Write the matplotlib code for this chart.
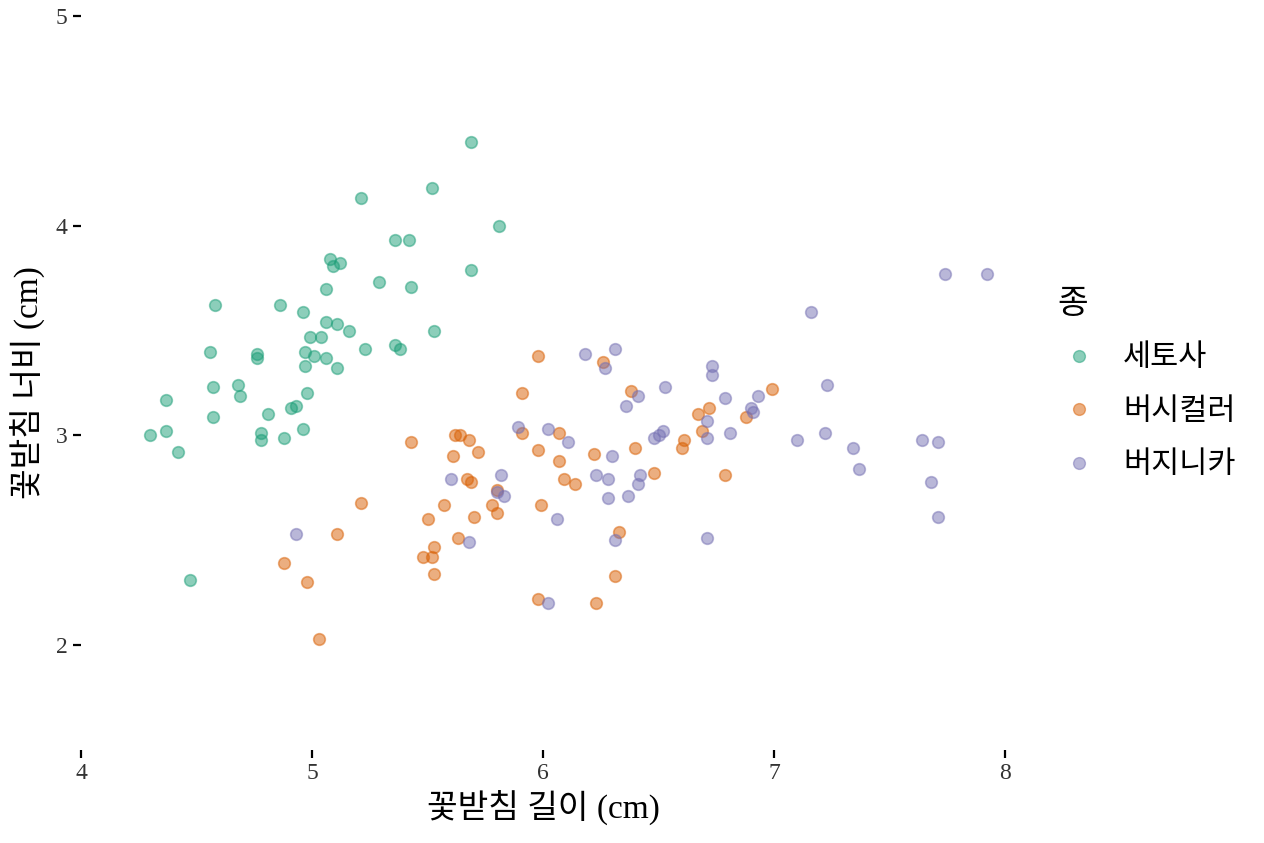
import numpy as np
import matplotlib
matplotlib.use('Agg')
import matplotlib.pyplot as plt
from matplotlib.lines import Line2D

# Schriften: Serif für Zahlen, Noto CJK für Hangul
plt.rcParams['font.family'] = ['Liberation Serif', 'Noto Sans CJK KR']

# Daten (mit Jitter)
setosa_x = [5.69, 5.52, 5.21, 5.81, 5.36, 5.42, 5.08, 5.09, 5.12, 5.69,
            5.29, 5.43, 5.06, 4.58, 4.86, 4.96, 5.06, 5.11, 5.16, 5.53,
            5.04, 4.99, 4.56, 4.76, 4.76, 4.97, 5.01, 5.23, 5.36, 5.38,
            5.06, 4.97, 5.11, 4.57, 4.68, 4.69, 4.37, 4.98, 4.57, 4.81,
            4.91, 4.93, 4.30, 4.37, 4.78, 4.78, 4.88, 4.96, 4.42, 4.47]
setosa_y = [4.40, 4.18, 4.13, 4.00, 3.93, 3.93, 3.84, 3.81, 3.82, 3.79,
            3.73, 3.71, 3.70, 3.62, 3.62, 3.59, 3.54, 3.53, 3.50, 3.50,
            3.47, 3.47, 3.40, 3.39, 3.37, 3.40, 3.38, 3.41, 3.43, 3.41,
            3.37, 3.33, 3.32, 3.23, 3.24, 3.19, 3.17, 3.20, 3.09, 3.10,
            3.13, 3.14, 3.00, 3.02, 3.01, 2.98, 2.99, 3.03, 2.92, 2.31]

versicolor_x = [5.43, 5.62, 5.64, 5.68, 5.61, 5.72, 5.91, 5.98, 5.67, 5.69,
                5.80, 5.78, 5.80, 5.57, 5.21, 5.50, 5.70, 5.11, 5.63, 5.53,
                5.48, 5.52, 5.53, 4.88, 4.98, 5.03, 5.98, 5.98, 6.26, 5.91,
                6.38, 6.72, 6.67, 6.69, 6.07, 6.61, 6.60, 6.22, 6.40, 6.07,
                6.48, 6.09, 6.14, 6.79, 5.99, 6.33, 6.31, 6.23, 6.99, 6.88]
versicolor_y = [2.97, 3.00, 3.00, 2.98, 2.90, 2.92, 3.01, 2.93, 2.79, 2.78,
                2.74, 2.67, 2.63, 2.67, 2.68, 2.60, 2.61, 2.53, 2.51, 2.47,
                2.42, 2.42, 2.34, 2.39, 2.30, 2.03, 2.22, 3.38, 3.35, 3.20,
                3.21, 3.13, 3.10, 3.02, 3.01, 2.98, 2.94, 2.91, 2.94, 2.88,
                2.82, 2.79, 2.77, 2.81, 2.67, 2.54, 2.33, 2.20, 3.22, 3.09]

virginica_x = [5.89, 5.60, 5.82, 5.80, 5.83, 5.68, 4.93, 6.18, 6.31, 6.27,
               6.73, 6.73, 6.53, 6.41, 6.36, 6.79, 6.71, 6.71, 6.81, 6.02,
               6.11, 6.52, 6.50, 6.48, 6.30, 6.23, 6.28, 6.42, 6.41, 6.28,
               6.37, 6.06, 6.31, 6.71, 6.02, 7.74, 7.92, 7.16, 7.23, 6.93,
               6.90, 6.91, 7.10, 7.22, 7.34, 7.37, 7.64, 7.71, 7.68, 7.71]
virginica_y = [3.04, 2.79, 2.81, 2.73, 2.71, 2.49, 2.53, 3.39, 3.41, 3.32,
               3.33, 3.29, 3.23, 3.19, 3.14, 3.18, 3.07, 2.99, 3.01, 3.03,
               2.97, 3.02, 3.00, 2.99, 2.90, 2.81, 2.79, 2.81, 2.77, 2.70,
               2.71, 2.60, 2.50, 2.51, 2.20, 3.77, 3.77, 3.59, 3.24, 3.19,
               3.13, 3.11, 2.98, 3.01, 2.94, 2.84, 2.98, 2.97, 2.78, 2.61]

arten = ['세토사', '버시컬러', '버지니카']
farben = ['#1B9E77', '#D95F02', '#7570B3']

fig = plt.figure(figsize=(12.64, 8.43), dpi=100)
ax = fig.add_axes([81/1264, 1 - 750/843, (1005 - 81)/1264, (750 - 16)/843])

daten = [(setosa_x, setosa_y), (versicolor_x, versicolor_y), (virginica_x, virginica_y)]
for (xs, ys), farbe in zip(daten, farben):
    ax.scatter(xs, ys, s=70, color=farbe, alpha=0.5, edgecolors=farbe, linewidths=1.2)

ax.set_xlim(4, 8)
ax.set_ylim(1.5, 5)
ax.set_xticks([4, 5, 6, 7, 8])
ax.set_yticks([2, 3, 4, 5])
for s in ax.spines.values():
    s.set_visible(False)
ax.tick_params(length=5.5, width=1.6, labelsize=17, colors='black', pad=4)
for lab in ax.get_xticklabels() + ax.get_yticklabels():
    lab.set_color('#333333')

ax.set_xlabel('꽃받침 길이 (cm)', fontsize=24, labelpad=4)
ax.set_ylabel('꽃받침 너비 (cm)', fontsize=24, labelpad=8)

# Legende
handles = [Line2D([], [], marker='o', linestyle='', markersize=8.5,
                  markerfacecolor=f, markeredgecolor=f, alpha=0.5) for f in farben]
leg = ax.legend(handles, arten, title='종', frameon=False, fontsize=22,
                title_fontsize=24, loc='upper left',
                bbox_to_anchor=(1030/1264, 1 - 262/843), bbox_transform=fig.transFigure,
                handlelength=1.4, handletextpad=0.75, labelspacing=0.8,
                alignment='left')

fig.savefig('out.png', dpi=100)
